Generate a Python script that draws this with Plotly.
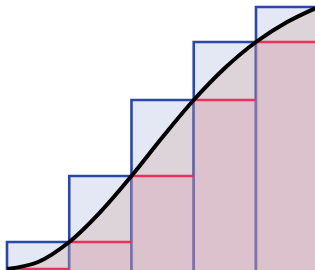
import plotly.graph_objects as go

# Partition points and function values at them
breaks = [0, 1, 2, 3, 4, 5]
f_at_breaks = [0.01, 0.28, 0.94, 1.70, 2.28, 2.63]

# Curve samples
curve_x = [0, 0.5, 1.0, 1.5, 2.0, 2.5, 3.0, 3.5, 4.0, 4.5, 5.0]
curve_y = [0.01, 0.08, 0.28, 0.58, 0.94, 1.33, 1.70, 2.02, 2.28, 2.48, 2.63]

centers = [(breaks[i] + breaks[i + 1]) / 2 for i in range(len(breaks) - 1)]
upper = f_at_breaks[1:]
lower = f_at_breaks[:-1]

fig = go.Figure()

# Upper sum rectangles
fig.add_trace(go.Bar(
    x=centers, y=[u + 0.1 for u in upper], base=-0.1, width=1,
    marker=dict(color="#e4e7f4", line=dict(color="#2a48a8", width=2.6)),
    hoverinfo="skip", showlegend=False,
))
# Lower sum rectangles (translucent fill)
fig.add_trace(go.Bar(
    x=centers, y=[l + 0.1 for l in lower], base=-0.1, width=1,
    marker=dict(color="rgba(226,140,182,0.28)", line=dict(width=0)),
    hoverinfo="skip", showlegend=False,
))

# Area under curve
fig.add_trace(go.Scatter(
    x=curve_x, y=curve_y, mode="lines", line=dict(width=0, shape="spline", smoothing=1.0),
    fill="tozeroy", fillcolor="rgba(201,168,151,0.3)",
    hoverinfo="skip", showlegend=False,
))

# Red top lines for lower sums
rx, ry = [], []
for i in range(len(lower)):
    rx += [breaks[i], breaks[i + 1], None]
    ry += [lower[i], lower[i], None]
fig.add_trace(go.Scatter(
    x=rx, y=ry, mode="lines", line=dict(color="#e8325c", width=2.6),
    hoverinfo="skip", showlegend=False,
))

# The curve
fig.add_trace(go.Scatter(
    x=curve_x, y=curve_y, mode="lines",
    line=dict(color="black", width=4, shape="spline", smoothing=1.0),
    hoverinfo="skip", showlegend=False,
))

fig.update_layout(
    width=315, height=270,
    margin=dict(l=0, r=0, t=0, b=0),
    paper_bgcolor="white", plot_bgcolor="white",
    barmode="overlay", bargap=0,
    xaxis=dict(range=[-0.1124, 4.948], visible=False, showgrid=False, zeroline=False),
    yaxis=dict(range=[0, 2.70], visible=False, showgrid=False, zeroline=False),
)

fig.write_html("out.html", config={"displayModeBar": False, "staticPlot": True},
               post_script="document.body.style.margin='0';")
